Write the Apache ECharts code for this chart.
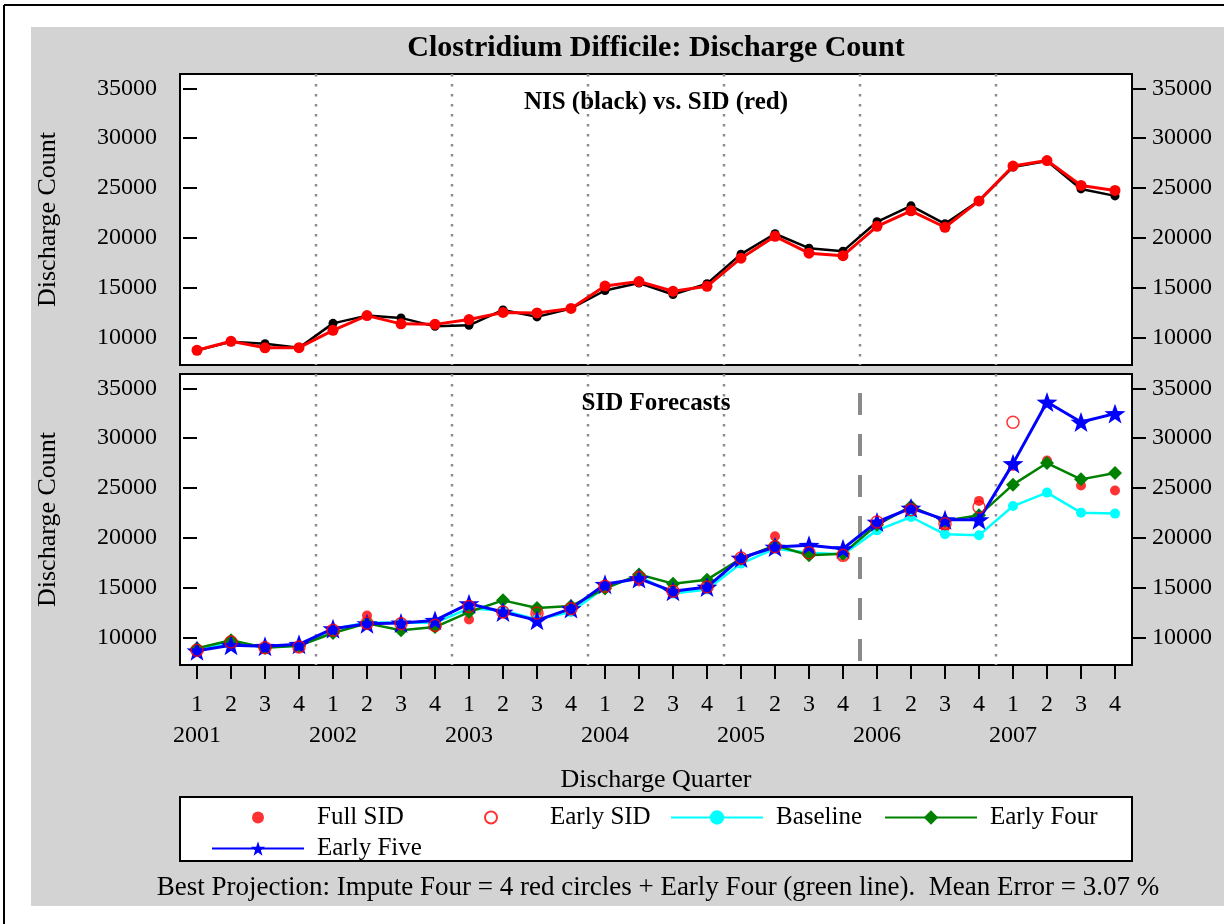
<!DOCTYPE html>
<html>
<head>
<meta charset="utf-8">
<script src="https://cdn.jsdelivr.net/npm/echarts@6/dist/echarts.min.js"></script>
<style>
  html, body { margin: 0; padding: 0; background: #fff; }
  #chart { width: 1224px; height: 924px; }
</style>
</head>
<body>
<div id="chart"></div>
<script>
// Quarter axis labels
const years = ['2001', '2002', '2003', '2004', '2005', '2006', '2007'];
const quarters = ['1', '2', '3', '4'];
const yTicks = [10000, 15000, 20000, 25000, 30000, 35000];

// Upper panel: NIS vs SID discharge counts
const nisCounts = [8700, 9550, 9350, 8960, 11400, 12180, 11950, 11100, 11200, 12750, 12050, 12900,
  14700, 15450, 14300, 15380, 18350, 20400, 18950, 18650, 21600, 23200, 21400, 23700,
  27100, 27700, 24900, 24200];
const sidCounts = [8700, 9600, 8950, 8960, 10700, 12180, 11350, 11300, 11780, 12500, 12450, 12900,
  15150, 15600, 14620, 15120, 17950, 20140, 18450, 18200, 21140, 22700, 21050, 23700,
  27200, 27750, 25250, 24750];

// Lower panel: SID forecasts
const fullSid = sidCounts;
const earlySid = [8700, 9530, 8950, 9030, 10700, 11400, 11370, 11200, 13100, 12540, 12440, 12880,
  15120, 16000, 14620, 15050, 17960, 19100, 18500, 18230, 21580, 22800, 21410, 23090,
  31600, null, null, null];
const baseline = [8800, 9500, 9000, 9150, 10800, 11500, 11450, 11450, 12900, 12700, 11800, 12540,
  15000, 16150, 14390, 14800, 17400, 18900, 18500, 18330, 20740, 22080, 20340, 20240,
  23180, 24530, 22520, 22420];
const earlyFour = [8900, 9700, 8950, 9150, 10430, 11400, 10700, 11030, 12540, 13710, 12940, 13140,
  14890, 16300, 15390, 15790, 17900, 19240, 18230, 18400, 21300, 23150, 21700, 22250,
  25330, 27500, 25860, 26500];
const earlyFive = [8650, 9200, 9100, 9300, 10870, 11370, 11440, 11700, 13380, 12540, 11700, 12880,
  15320, 15900, 14620, 15050, 17960, 19070, 19240, 18900, 21580, 22980, 21810, 21810,
  27440, 33630, 31620, 32460];

// Year boundaries (between Q4 and Q1) and start of the forecast period
const yearBreaks = [3.5, 7.5, 11.5, 15.5, 19.5, 23.5];
const forecastStart = 19.5;

const yMin = 7220, yMax = 36440;
const FONT = '"Liberation Serif", "Times New Roman", serif';
const STAR = 'path://M0,-10 L2.35,-3.24 L9.51,-3.09 L3.8,1.24 L5.88,8.09 L0,4 L-5.88,8.09 L-3.8,1.24 L-9.51,-3.09 L-2.35,-3.24 Z';
const categories = years.flatMap(y => quarters.map(q => y + '-' + q));

const chart = echarts.init(document.getElementById('chart'), null, { renderer: 'canvas' });

const grids = [
  { left: 180, top: 74, width: 952, height: 291 },
  { left: 180, top: 374, width: 952, height: 291 }
].map(g => Object.assign(g, {
  show: true, backgroundColor: '#fff', borderColor: '#000', borderWidth: 2, containLabel: false
}));

function yAxisDef(gridIndex, position, withName) {
  const ax = {
    type: 'value', gridIndex, position, min: yMin, max: yMax,
    splitLine: { show: false },
    axisLine: { show: false },
    axisTick: { show: true, inside: false, length: 14, lineStyle: { color: '#000', width: 2 }, customValues: yTicks },
    axisLabel: {
      customValues: yTicks, fontFamily: FONT, fontSize: 24, color: '#000',
      margin: position === 'left' ? 23 : 20,
      formatter: v => (v % 5000 === 0 ? String(v) : '')
    }
  };
  if (withName) {
    Object.assign(ax, {
      name: 'Discharge Count', nameLocation: 'middle', nameGap: 119,
      nameTextStyle: { fontFamily: FONT, fontSize: 26, color: '#000' }
    });
  }
  return ax;
}

const dotted = { color: '#8c8c8c', width: 2.5, type: [2.5, 7.5] };
const series = [];

// Year separators
yearBreaks.forEach(b => {
  series.push({
    type: 'line', xAxisIndex: 2, yAxisIndex: 0, silent: true, symbol: 'none',
    data: [[b, yMax], [b, yMin]], lineStyle: dotted, z: 1
  });
  const isForecast = b === forecastStart;
  series.push({
    type: 'line', xAxisIndex: 3, yAxisIndex: 2, silent: true, symbol: 'none',
    data: [[b, yMax], [b, yMin]],
    lineStyle: isForecast
      ? { color: '#8a8a8a', width: 4, type: [22, 19], dashOffset: 22 }
      : dotted,
    z: 1
  });
});

// Upper panel lines
series.push({
  name: 'NIS', type: 'line', xAxisIndex: 0, yAxisIndex: 0, data: nisCounts,
  symbol: 'circle', symbolSize: 9, itemStyle: { color: '#000' },
  lineStyle: { color: '#000', width: 2.5 }, z: 3
});
series.push({
  name: 'SID', type: 'line', xAxisIndex: 0, yAxisIndex: 0, data: sidCounts,
  symbol: 'circle', symbolSize: 11, itemStyle: { color: '#ff0000' },
  lineStyle: { color: '#ff0000', width: 3 }, z: 4
});

// Lower panel forecasts
series.push({
  name: 'Full SID', type: 'scatter', xAxisIndex: 1, yAxisIndex: 2, data: fullSid,
  symbol: 'circle', symbolSize: 10, itemStyle: { color: '#ff0000' }, z: 3
});
series.push({
  name: 'Baseline', type: 'line', xAxisIndex: 1, yAxisIndex: 2, data: baseline,
  symbol: 'circle', symbolSize: 10, itemStyle: { color: '#00ffff' },
  lineStyle: { color: '#00ffff', width: 2.5 }, z: 4
});
series.push({
  name: 'Early Four', type: 'line', xAxisIndex: 1, yAxisIndex: 2, data: earlyFour,
  symbol: 'diamond', symbolSize: 14, itemStyle: { color: '#008000' },
  lineStyle: { color: '#008000', width: 2.5 }, z: 5
});
series.push({
  name: 'Early Five', type: 'line', xAxisIndex: 1, yAxisIndex: 2, data: earlyFive,
  symbol: STAR, symbolSize: 21, symbolKeepAspect: true, itemStyle: { color: '#0000ff' },
  lineStyle: { color: '#0000ff', width: 3 }, z: 6
});
series.push({
  name: 'Early SID', type: 'scatter', xAxisIndex: 1, yAxisIndex: 2, data: earlySid,
  symbol: 'circle', symbolSize: 12,
  itemStyle: { color: 'rgba(255,255,255,0)', borderColor: '#ff0000', borderWidth: 1.5 }, z: 7
});

function legendDef(name, left, top, itemHeight) {
  return {
    data: [name], left, top, orient: 'horizontal', padding: 0,
    itemWidth: 92, itemHeight, selectedMode: false,
    textStyle: { fontFamily: FONT, fontSize: 25, color: '#000', padding: [0, 0, 0, 8] }
  };
}

const option = {
  backgroundColor: '#fff',
  animation: false,
  graphic: [
    { type: 'rect', z: -100, shape: { x: 31, y: 27, width: 1193, height: 879 }, style: { fill: '#d3d3d3' } },
    { type: 'line', z: -90, shape: { x1: 4, y1: 5, x2: 1224, y2: 5 }, style: { stroke: '#000', lineWidth: 2 } },
    { type: 'line', z: -90, shape: { x1: 4, y1: 5, x2: 4, y2: 924 }, style: { stroke: '#000', lineWidth: 2 } },
    { type: 'rect', z: -50, shape: { x: 180, y: 797, width: 952, height: 64 }, style: { fill: '#fff', stroke: '#000', lineWidth: 2 } },
    {
      type: 'text', z: 10, x: 658, y: 888,
      style: {
        text: 'Best Projection: Impute Four = 4 red circles + Early Four (green line).  Mean Error = 3.07 %',
        font: '27px ' + FONT, fill: '#000', textAlign: 'center', textVerticalAlign: 'middle'
      }
    }
  ],
  title: [
    { text: 'Clostridium Difficile: Discharge Count', left: 656, top: 33, textAlign: 'center', padding: 0,
      textStyle: { fontFamily: FONT, fontSize: 30, fontWeight: 'bold', color: '#000' } },
    { text: 'NIS (black) vs. SID (red)', left: 656, top: 90, textAlign: 'center', padding: 0,
      textStyle: { fontFamily: FONT, fontSize: 25, fontWeight: 'bold', color: '#000' } },
    { text: 'SID Forecasts', left: 656, top: 391, textAlign: 'center', padding: 0,
      textStyle: { fontFamily: FONT, fontSize: 25, fontWeight: 'bold', color: '#000' } }
  ],
  legend: [
    legendDef('Full SID', 252, 805, 12),
    legendDef('Early SID', 484, 805, 12),
    legendDef('Baseline', 670, 805, 18),
    legendDef('Early Four', 884, 805, 18),
    legendDef('Early Five', 211, 836, 18)
  ],
  grid: grids,
  xAxis: [
    { type: 'category', gridIndex: 0, data: categories, boundaryGap: true,
      axisLine: { show: false }, axisTick: { show: false }, axisLabel: { show: false }, splitLine: { show: false } },
    { type: 'category', gridIndex: 1, data: categories, boundaryGap: true,
      axisLine: { show: false },
      axisTick: { show: true, alignWithLabel: true, length: 14, lineStyle: { color: '#000', width: 2 } },
      axisLabel: {
        interval: 0, fontFamily: FONT, fontSize: 24, color: '#000', margin: 24, lineHeight: 31,
        formatter: v => {
          const [y, q] = v.split('-');
          return q === '1' ? q + '\n' + y : q;
        }
      },
      splitLine: { show: false },
      name: 'Discharge Quarter', nameLocation: 'middle', nameGap: 102,
      nameTextStyle: { fontFamily: FONT, fontSize: 26, color: '#000' } },
    { type: 'value', gridIndex: 0, min: -0.5, max: 27.5, show: false },
    { type: 'value', gridIndex: 1, min: -0.5, max: 27.5, show: false }
  ],
  yAxis: [
    yAxisDef(0, 'left', true),
    yAxisDef(0, 'right', false),
    yAxisDef(1, 'left', true),
    yAxisDef(1, 'right', false)
  ],
  series
};

chart.setOption(option);
</script>
</body>
</html>
